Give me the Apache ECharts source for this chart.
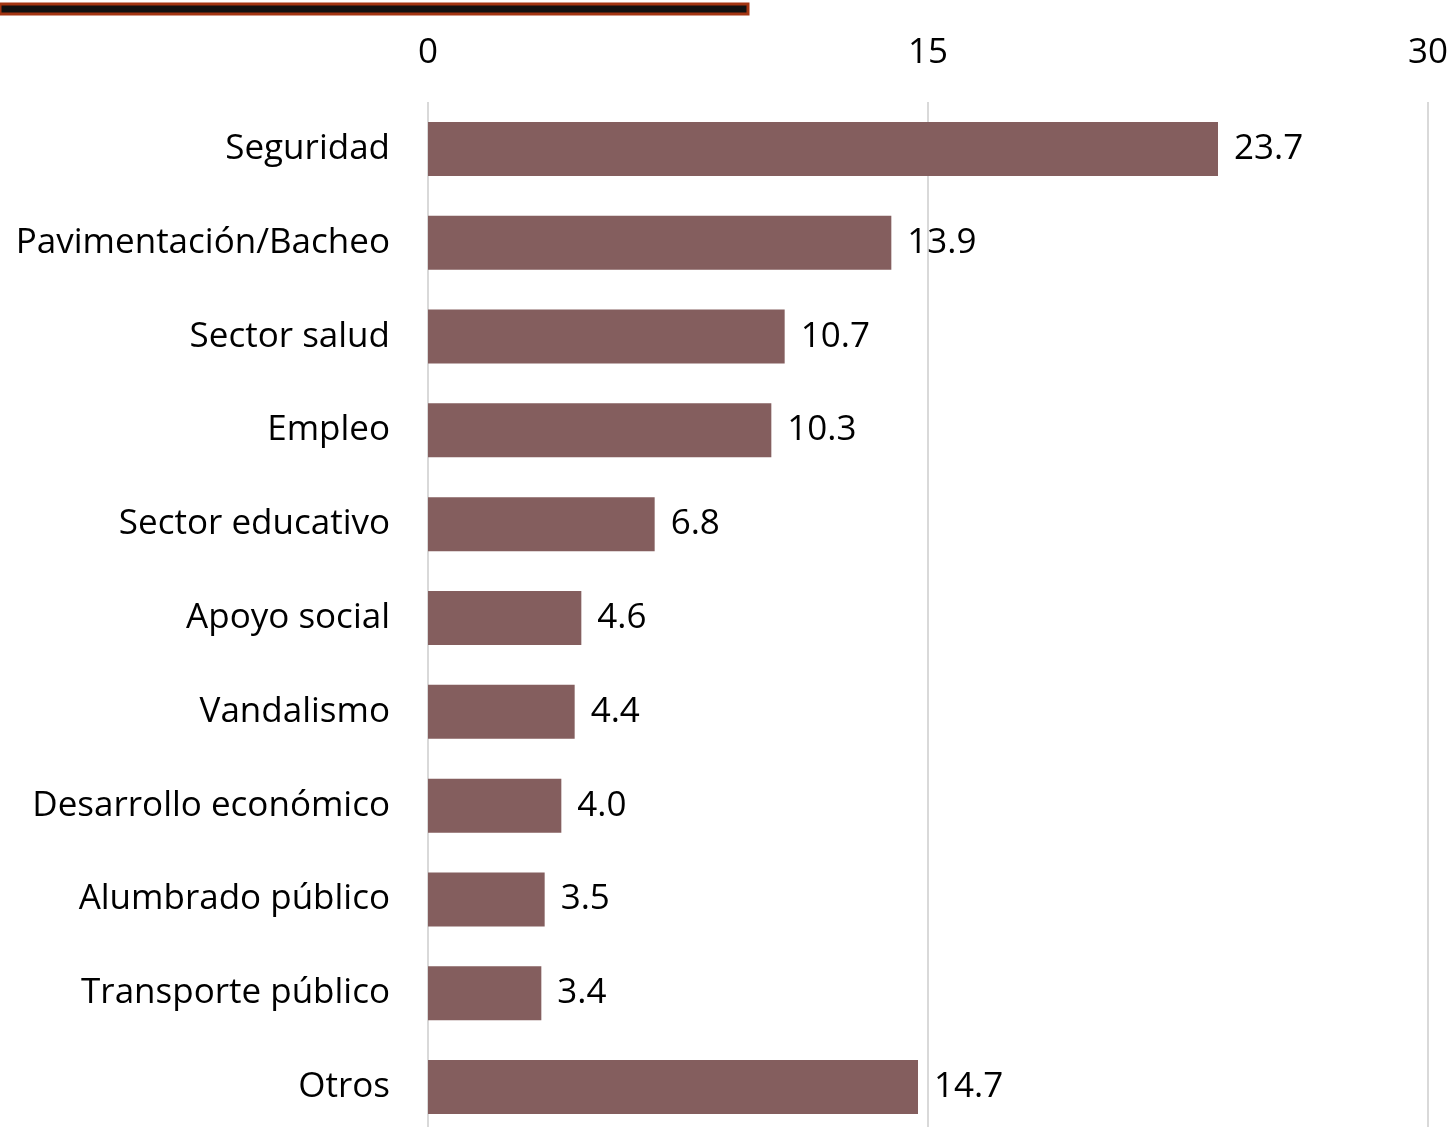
<!DOCTYPE html>
<html><head><meta charset="utf-8">
<script src="https://cdn.jsdelivr.net/npm/echarts@6/dist/echarts.min.js"></script>
<style>html,body{margin:0;padding:0;background:#fff}#c{width:1453px;height:1127px}</style>
</head><body><div id="c"></div>
<script>
const categories = ["Seguridad","Pavimentación/Bacheo","Sector salud","Empleo","Sector educativo","Apoyo social","Vandalismo","Desarrollo económico","Alumbrado público","Transporte público","Otros"];
const values = [23.7,13.9,10.7,10.3,6.8,4.6,4.4,4.0,3.5,3.4,14.7];
const xTicks = [0,15,30];
const FONT = "Open Sans";
const FS = 35;
const chart = echarts.init(document.getElementById('c'));
chart.setOption({
  animation:false,
  backgroundColor:'#fff',
  textStyle:{fontFamily:FONT},
  grid:{left:428,right:25,top:102,height:1032,outerBoundsMode:'none',containLabel:false},
  xAxis:{type:'value',position:'top',min:0,max:30,interval:15,
    axisLine:{show:false},axisTick:{show:false},
    splitLine:{lineStyle:{color:'#d9d9d9',width:2}},
    axisLabel:{color:'#000',fontSize:FS,fontFamily:FONT,margin:31,formatter:v=>xTicks.includes(v)?String(v):''}},
  yAxis:{type:'category',inverse:true,data:categories,
    axisLine:{show:false},axisTick:{show:false},
    axisLabel:{color:'#000',fontSize:FS,fontFamily:FONT,margin:38,padding:[5,0,0,0]}},
  series:[{type:'bar',data:values,barWidth:54,itemStyle:{color:'#845E5E'},
    label:{show:true,position:'right',distance:16,color:'#000',fontSize:FS,fontFamily:FONT,padding:[5,0,0,0],formatter:p=>p.value.toFixed(1)}}],
  graphic:[{type:'rect',shape:{x:0,y:4,width:748,height:10},style:{fill:'#111',stroke:'#A33512',lineWidth:3}}]
});
</script></body></html>
